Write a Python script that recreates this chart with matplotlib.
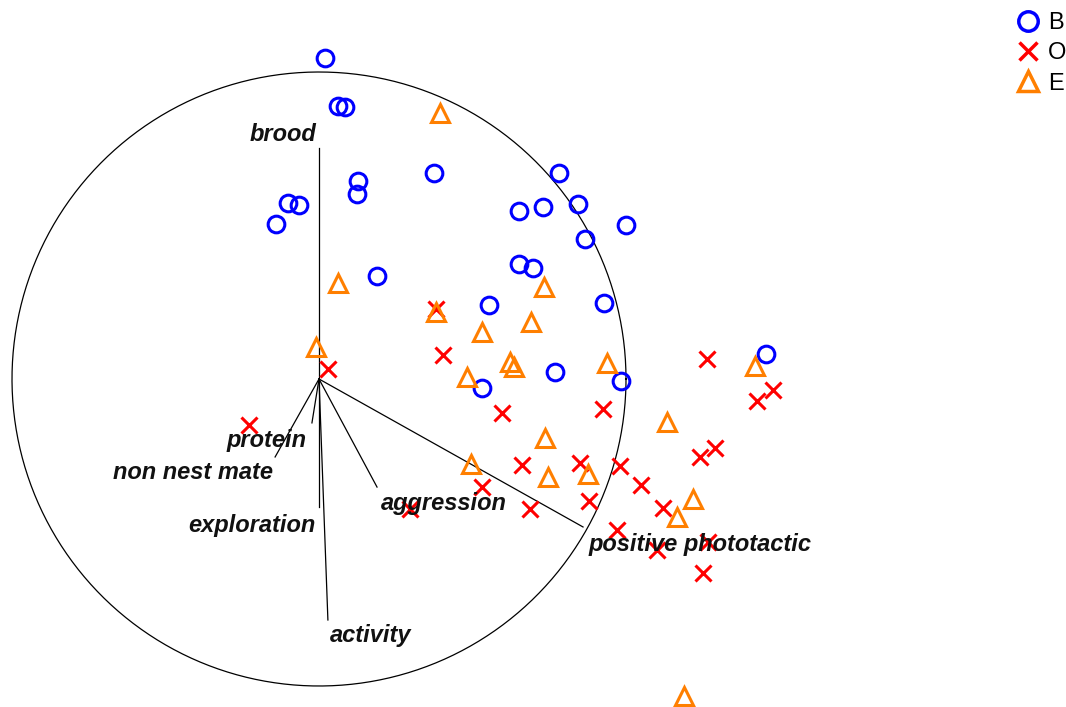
import numpy as np
import matplotlib.pyplot as plt
from matplotlib.lines import Line2D

# scores (unit circle = radius 1, centre at arrow origin)
bx = [0.020, 0.062, 0.085, 0.127, 0.124, -0.101, -0.065, -0.140, 0.375, 0.782, 0.652, 0.730,
      0.844, 0.866, 1.000, 0.189, 0.652, 0.697, 0.554, 0.928, 0.769, 0.531, 0.984, 1.456]
by = [1.046, 0.889, 0.886, 0.645, 0.603, 0.573, 0.567, 0.505, 0.671, 0.671, 0.547, 0.560,
      0.570, 0.456, 0.502, 0.335, 0.375, 0.362, 0.241, 0.248, 0.023, -0.029, -0.007, 0.081]

ox = [0.381, 0.404, 0.029, -0.228, 0.596, 0.925, 1.264, 1.479, 1.427, 1.290, 1.241, 0.661,
      0.850, 0.980, 1.049, 0.531, 0.687, 0.879, 0.296, 1.121, 0.971, 1.101, 1.267, 1.251]
oy = [0.228, 0.078, 0.033, -0.150, -0.111, -0.098, 0.065, -0.036, -0.072, -0.225, -0.254, -0.280,
      -0.274, -0.283, -0.345, -0.352, -0.423, -0.397, -0.423, -0.420, -0.492, -0.557, -0.531, -0.632]

ex = [0.394, 0.062, -0.010, 0.733, 0.381, 0.531, 0.690, 0.622, 0.635, 0.482, 0.938, 1.420,
      1.133, 0.736, 0.495, 0.746, 0.876, 1.218, 1.166, 1.189]
ey = [0.866, 0.313, 0.104, 0.300, 0.218, 0.153, 0.186, 0.055, 0.039, 0.007, 0.052, 0.042,
      -0.140, -0.192, -0.277, -0.319, -0.309, -0.391, -0.450, -1.033]

# loadings
var_names = ['brood', 'protein', 'non nest mate', 'exploration', 'activity', 'aggression',
             'positive phototactic']
lx = [0.000, -0.023, -0.143, 0.000, 0.029, 0.189, 0.860]
ly = [0.752, -0.143, -0.254, -0.417, -0.785, -0.352, -0.482]
# label offsets (x, y) from loading tip
lab_dx = [-0.117, -0.147, -0.267, -0.218, 0.140, 0.218, 0.381]
lab_dy = [0.052, -0.049, -0.042, -0.052, -0.042, -0.046, -0.049]

fig = plt.figure(figsize=(10.66, 7.07), dpi=100, facecolor='white')
ax = fig.add_axes([0, 0, 1, 1])
W, H, cx, cy, r = 1066, 707, 319.0, 379.0, 307.0
ax.set_xlim(-cx / r, (W - cx) / r)
ax.set_ylim((cy - H) / r, cy / r)
ax.axis('off')

t = np.linspace(0, 2 * np.pi, 400)
ax.plot(np.cos(t), np.sin(t), color='black', lw=0.9)

for i in range(len(var_names)):
    ax.plot([0, lx[i]], [0, ly[i]], color='black', lw=0.9)
    ax.text(lx[i] + lab_dx[i], ly[i] + lab_dy[i], var_names[i], ha='center', va='center_baseline',
            fontsize=17, fontweight='bold', fontstyle='italic', family='Liberation Sans',
            color='#111111')

ax.plot(bx, by, 'o', ls='none', mfc='none', mec='#0000ff', mew=2.2, ms=12)
ax.plot(ox, oy, 'x', ls='none', color='#ff0000', mew=2.2, ms=11)
ax.plot(ex, ey, '^', ls='none', mfc='none', mec='#ff7f00', mew=2.2, ms=13)

handles = [Line2D([], [], marker='o', ls='none', mfc='none', mec='#0000ff', mew=2.5, ms=14),
           Line2D([], [], marker='x', ls='none', color='#ff0000', mew=2.5, ms=13),
           Line2D([], [], marker='^', ls='none', mfc='none', mec='#ff7f00', mew=2.5, ms=15)]
ax.legend(handles, ['B', 'O', 'E'], loc='upper left', bbox_to_anchor=(1016 / W, 1 - 12 / H),
          frameon=False, handlelength=1.0, handletextpad=0.35, labelspacing=0.35,
          prop={'family': 'Liberation Sans', 'size': 17}, borderpad=0, borderaxespad=0)

fig.savefig('out.png', dpi=100, facecolor='white')
